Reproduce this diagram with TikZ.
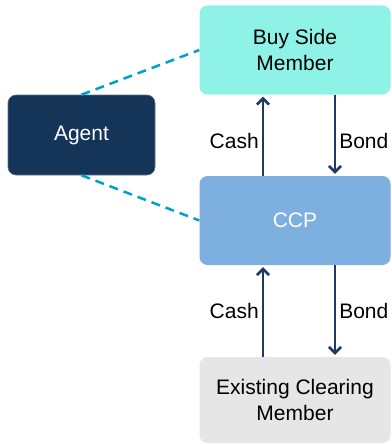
\documentclass[tikz,border=0pt]{standalone}
\usepackage{fontspec}
\setmainfont{Liberation Sans}
\usetikzlibrary{
  arrows.meta,
  positioning
}
\definecolor{clrBuy}{RGB}{143,242,230}
\definecolor{clrAgent}{RGB}{20,52,88}
\definecolor{clrCCP}{RGB}{125,176,222}
\definecolor{clrMember}{RGB}{230,230,230}
\definecolor{clrLine}{RGB}{31,56,100}
\definecolor{clrDash}{RGB}{0,160,205}
\tikzset{
  clrbox/.style={
    rounded corners=8pt,
    align=center,
    minimum width=191pt,
    minimum height=89pt,
    inner sep=0pt,
    font=\fontsize{21}{26}\selectfont
  },
  clragent/.style={
    clrbox,
    fill=clrAgent,
    draw=clrAgent!70!white,
    line width=0.6pt,
    text=white,
    minimum width=147pt,
    minimum height=80pt
  },
  clrarrow/.style={
    -{Straight Barb[length=6pt,width=12pt]},
    line width=2.6pt,
    draw=clrLine,
    shorten >=2pt
  },
  clrdashed/.style={
    line width=2.5pt,
    draw=clrDash,
    dash pattern=on 9pt off 6pt
  },
  clrlabel/.style={
    font=\fontsize{21}{26}\selectfont,
    inner sep=3pt
  }
}

\begin{document}
\begin{tikzpicture}[x=1pt,y=-1pt]
  \useasboundingbox (0,0) rectangle (391,444);

  \node[clrbox, fill=clrBuy] (buy) at (295,50) {Buy Side\\Member};
  \node[clrbox, fill=clrCCP, text=white] (ccp) at (295,220.5) {CCP};
  \node[clrbox, fill=clrMember, minimum height=86pt] (member) at (295,400) {Existing Clearing\\Member};
  \node[clragent] (agent) at (81.5,135) {Agent};

  \draw[clrdashed] (agent.north) -- (buy.west);
  \draw[clrdashed] (agent.south) -- (ccp.west);

  \draw[clrarrow] ([xshift=-32pt]ccp.north) -- ([xshift=-32pt]buy.south)
    node[clrlabel, left, pos=0.43] (cash1) {Cash};
  \draw[clrarrow] ([xshift=40pt]buy.south) -- ([xshift=40pt]ccp.north)
    node[clrlabel, right, pos=0.57] (bond1) {Bond};

  \draw[clrarrow] ([xshift=-32pt]member.north) -- ([xshift=-32pt]ccp.south)
    node[clrlabel, left, pos=0.5] (cash2) {Cash};
  \draw[clrarrow] ([xshift=40pt]ccp.south) -- ([xshift=40pt]member.north)
    node[clrlabel, right, pos=0.5] (bond2) {Bond};
\end{tikzpicture}
\end{document}
